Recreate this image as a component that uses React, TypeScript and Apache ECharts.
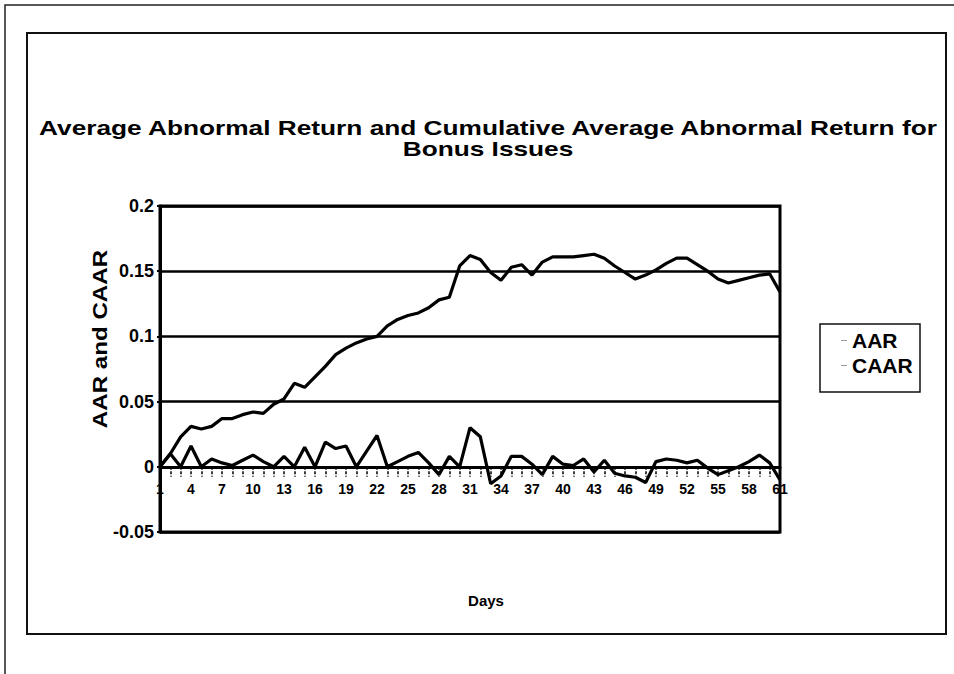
import React, { useEffect, useRef } from "react";
import * as echarts from "echarts";

const days = [
  "1","2","3","4","5","6","7","8","9","10","11","12","13","14","15","16","17","18","19","20",
  "21","22","23","24","25","26","27","28","29","30","31","32","33","34","35","36","37","38","39","40",
  "41","42","43","44","45","46","47","48","49","50","51","52","53","54","55","56","57","58","59","60","61",
];

const aar = [
  0, 0.010, 0, 0.016, 0, 0.006, 0.003, 0.001, 0.005, 0.009,
  0.004, 0.000, 0.008, 0.000, 0.015, 0.000, 0.019, 0.014, 0.016, 0.000,
  0.012, 0.024, 0.000, 0.004, 0.008, 0.011, 0.003, -0.006, 0.008, 0.000,
  0.030, 0.023, -0.013, -0.007, 0.008, 0.008, 0.002, -0.006, 0.008, 0.002,
  0.001, 0.006, -0.004, 0.005, -0.005, -0.007, -0.008, -0.012, 0.004, 0.006,
  0.005, 0.003, 0.005, -0.001, -0.006, -0.003, 0.000, 0.004, 0.009, 0.003,
  -0.010,
];

const caar = [
  0, 0.010, 0.023, 0.031, 0.029, 0.031, 0.037, 0.037, 0.040, 0.042,
  0.041, 0.048, 0.052, 0.064, 0.061, 0.069, 0.077, 0.086, 0.091, 0.095,
  0.098, 0.100, 0.108, 0.113, 0.116, 0.118, 0.122, 0.128, 0.130, 0.154,
  0.162, 0.159, 0.149, 0.143, 0.153, 0.155, 0.147, 0.157, 0.161, 0.161,
  0.161, 0.162, 0.163, 0.160, 0.154, 0.149, 0.144, 0.147, 0.151, 0.156,
  0.160, 0.160, 0.155, 0.150, 0.144, 0.141, 0.143, 0.145, 0.147, 0.148,
  0.134,
];

const yTickLabels = ["-0.05", "0", "0.05", "0.1", "0.15", "0.2"];
const seriesNames = ["AAR", "CAAR"];
const titleLines = [
  "Average Abnormal Return and Cumulative Average Abnormal Return for",
  "Bonus Issues",
];
const yAxisTitle = "AAR and CAAR";
const xAxisTitle = "Days";

const FONT = '"Liberation Sans", Arial, Helvetica, sans-serif';

const GRID_TOP = 206;
const GRID_HEIGHT = 326;
const Y_MIN = -0.05;
const Y_MAX = 0.2;

export default function App() {
  const ref = useRef<HTMLDivElement>(null);

  useEffect(() => {
    if (!ref.current) return;
    const chart = echarts.init(ref.current, null, { renderer: "svg" });
    // place the category axis on the zero line (offset inward from the bottom)
    const zeroOffset = -((0 - Y_MIN) / (Y_MAX - Y_MIN)) * GRID_HEIGHT;
    chart.setOption({
      animation: false,
      backgroundColor: "#ffffff",
      grid: {
        left: 160,
        top: GRID_TOP,
        width: 620,
        height: GRID_HEIGHT,
        show: true,
        borderColor: "#000",
        borderWidth: 3,
        backgroundColor: "transparent",
      },
      legend: {
        orient: "vertical",
        left: 841,
        top: 330,
        padding: 0,
        itemGap: 4,
        itemWidth: 6,
        itemHeight: 1,
        icon: "rect",
        itemStyle: { color: "#9a9a9a" },
        textStyle: {
          fontFamily: FONT,
          fontWeight: "bold",
          fontSize: 21,
          lineHeight: 20,
          color: "#000",
        },
        data: seriesNames,
      },
      xAxis: {
        type: "category",
        data: days,
        boundaryGap: false,
        position: "bottom",
        offset: zeroOffset,
        axisLine: { onZero: false, lineStyle: { color: "#000", width: 3 } },
        axisTick: {
          show: true,
          interval: 0,
          length: 10,
          lineStyle: { color: "#000", width: 1.5, type: [3, 1.5] },
        },
        axisLabel: {
          interval: 2,
          margin: 15,
          fontFamily: FONT,
          fontWeight: "bold",
          fontSize: 14,
          color: "#000",
        },
        splitLine: { show: false },
      },
      yAxis: {
        type: "value",
        min: Y_MIN,
        max: Y_MAX,
        interval: 0.05,
        axisLine: { show: true, lineStyle: { color: "#000", width: 3 } },
        axisTick: { show: true, length: 3, lineStyle: { color: "#000", width: 2 } },
        axisLabel: {
          margin: 6,
          fontFamily: FONT,
          fontWeight: "bold",
          fontSize: 18,
          color: "#000",
          formatter: (v: number) => {
            const i = Math.round((v - Y_MIN) / 0.05);
            return yTickLabels[i] ?? "";
          },
        },
        splitLine: { show: true, lineStyle: { color: "#000", width: 2.5 } },
      },
      series: [
        {
          name: seriesNames[0],
          type: "line",
          data: aar,
          showSymbol: false,
          symbol: "none",
          lineStyle: { color: "#000", width: 3.2 },
          itemStyle: { color: "#000" },
          z: 3,
        },
        {
          name: seriesNames[1],
          type: "line",
          data: caar,
          showSymbol: false,
          symbol: "none",
          lineStyle: { color: "#000", width: 3.2 },
          itemStyle: { color: "#000" },
          z: 3,
        },
      ],
      graphic: [
        {
          type: "rect",
          shape: { x: 5, y: 5, width: 1000, height: 700 },
          style: { fill: "none", stroke: "#222", lineWidth: 1.5 },
          silent: true,
        },
        {
          type: "rect",
          shape: { x: 27, y: 33, width: 919, height: 601 },
          style: { fill: "none", stroke: "#111", lineWidth: 2 },
          silent: true,
        },
        {
          type: "rect",
          shape: { x: 820, y: 324, width: 100, height: 68 },
          style: { fill: "none", stroke: "#111", lineWidth: 1.5 },
          silent: true,
        },
        {
          type: "text",
          x: 488,
          y: 127,
          scaleX: 1.25,
          style: {
            text: titleLines[0],
            fontFamily: FONT,
            fontWeight: "bold",
            fontSize: 21,
            fill: "#000",
            textAlign: "center",
            textVerticalAlign: "middle",
          },
        },
        {
          type: "text",
          x: 488,
          y: 148,
          scaleX: 1.25,
          style: {
            text: titleLines[1],
            fontFamily: FONT,
            fontWeight: "bold",
            fontSize: 21,
            fill: "#000",
            textAlign: "center",
            textVerticalAlign: "middle",
          },
        },
        {
          type: "text",
          x: 100,
          y: 339,
          rotation: Math.PI / 2,
          scaleX: 1.15,
          style: {
            text: yAxisTitle,
            fontFamily: FONT,
            fontWeight: "bold",
            fontSize: 21,
            fill: "#000",
            textAlign: "center",
            textVerticalAlign: "middle",
          },
        },
        {
          type: "text",
          x: 486,
          y: 600,
          style: {
            text: xAxisTitle,
            fontFamily: FONT,
            fontWeight: "bold",
            fontSize: 15,
            fill: "#000",
            textAlign: "center",
            textVerticalAlign: "middle",
          },
        },
      ],
    });
    return () => chart.dispose();
  }, []);

  return (
    <div
      ref={ref}
      style={{ position: "fixed", left: 0, top: 0, width: 954, height: 674, background: "#fff" }}
    />
  );
}
